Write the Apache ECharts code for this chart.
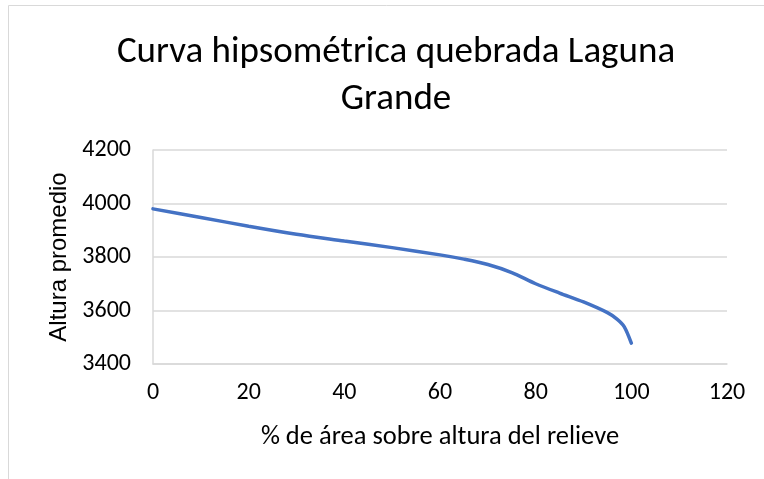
<!DOCTYPE html>
<html>
<head>
<meta charset="utf-8">
<script src="https://cdn.jsdelivr.net/npm/echarts@6/dist/echarts.min.js"></script>
<style>
	html, body { margin: 0; padding: 0; background: #fff; }
	#chart { width: 764px; height: 479px; }
</style>
</head>
<body>
<div id="chart"></div>
<script>
// 数据：% de área 与 altura promedio
const areaPct = [0, 10, 20, 30, 40, 50, 60, 65, 70, 75, 80, 85, 90, 95, 97, 98.5, 100];
const altura = [3980, 3948, 3915, 3885, 3860, 3835, 3808, 3792, 3772, 3742, 3700, 3665, 3632, 3592, 3568, 3540, 3478];
const xTicks = [0, 20, 40, 60, 80, 100, 120];
const yTicks = [3400, 3600, 3800, 4000, 4200];

const textFont = 'Carlito, "Liberation Sans Narrow", "Liberation Sans", sans-serif';

(function () {
	const myChart = echarts.init(document.getElementById('chart'));
	myChart.setOption({
		animation: false,
		title: {
			text: 'Curva hipsométrica quebrada Laguna\nGrande',
			left: 391,
			top: 24,
			textAlign: 'center',
			textStyle: {
				fontFamily: textFont,
				fontSize: 37,
				fontWeight: 'normal',
				color: '#000',
				lineHeight: 47,
			},
		},
		// Excel 图表边框
		graphic: [
			{
				type: 'rect',
				shape: { x: 8.5, y: 5.5, width: 800, height: 520 },
				style: { fill: 'none', stroke: '#d9d9d9', lineWidth: 1 },
				silent: true,
			},
		],
		grid: { left: 153, right: 37, top: 150, bottom: 115 },
		xAxis: {
			type: 'value',
			min: xTicks[0],
			max: xTicks[xTicks.length - 1],
			interval: 20,
			name: '% de área sobre altura del relieve',
			nameLocation: 'middle',
			nameGap: 60,
			nameTextStyle: { fontFamily: textFont, fontSize: 26.5, color: '#000' },
			axisLine: { show: true, lineStyle: { color: '#d9d9d9', width: 1.5 } },
			axisTick: { show: false },
			splitLine: { show: false },
			axisLabel: { fontFamily: textFont, fontSize: 24, color: '#000', margin: 17 },
		},
		yAxis: {
			type: 'value',
			min: yTicks[0],
			max: yTicks[yTicks.length - 1],
			interval: 200,
			name: 'Altura promedio',
			nameLocation: 'middle',
			nameGap: 80,
			nameTextStyle: { fontFamily: '"Liberation Sans", Arial, sans-serif', fontSize: 24, color: '#000' },
			axisLine: { show: true, lineStyle: { color: '#d9d9d9', width: 1.5 } },
			axisTick: { show: false },
			splitLine: { show: true, lineStyle: { color: '#d9d9d9', width: 1.5 } },
			axisLabel: {
				fontFamily: textFont,
				fontSize: 24,
				color: '#000',
				margin: 22,
				formatter: (v) => String(v), // 不加千位分隔符
			},
		},
		series: [
			{
				type: 'line',
				data: areaPct.map((x, i) => [x, altura[i]]),
				smooth: 0.3,
				showSymbol: false,
				lineStyle: { color: '#4472C4', width: 3.5, cap: 'round' },
			},
		],
	});
})();
</script>
</body>
</html>
